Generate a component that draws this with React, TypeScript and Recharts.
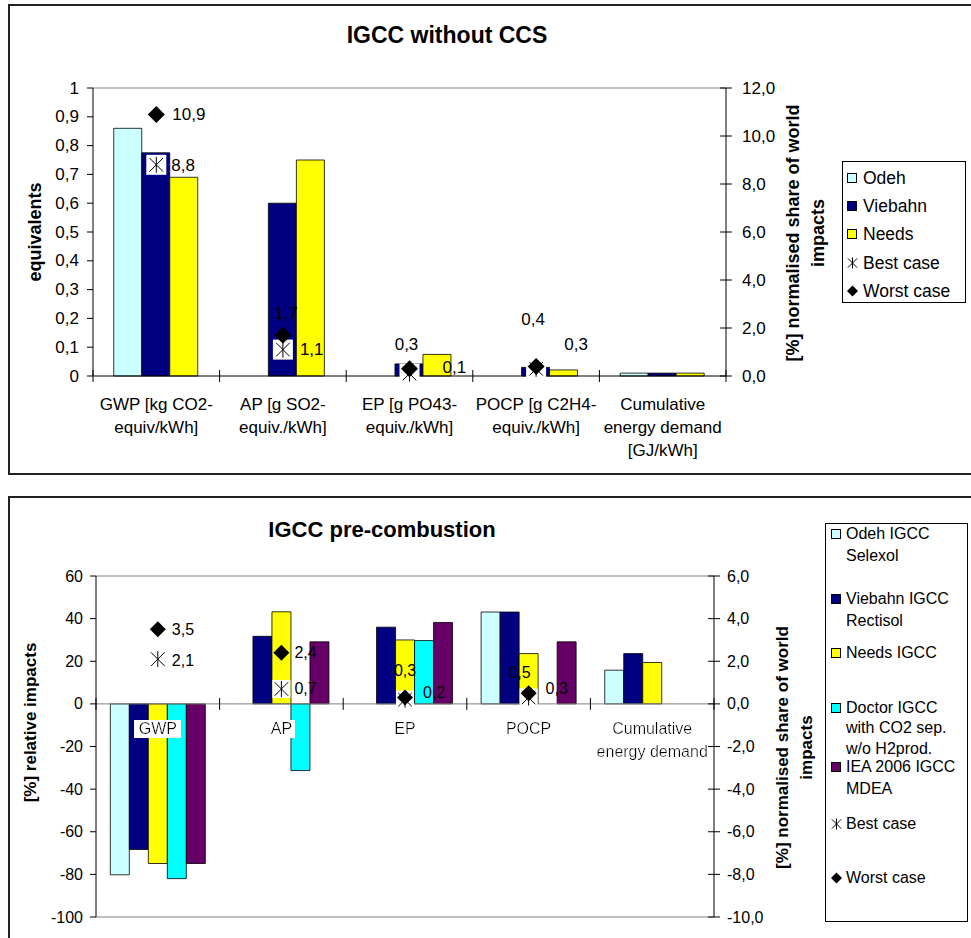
import React from 'react';
import { ComposedChart, Bar, Line, XAxis, YAxis, ReferenceLine, LabelList } from 'recharts';

const FONT = '"Liberation Sans", Arial, Helvetica, sans-serif';

// ---------------- Data: IGCC without CCS ----------------
const topCategories = [
  'GWP [kg CO2-\nequiv/kWh]',
  'AP [g SO2-\nequiv./kWh]',
  'EP [g PO43-\nequiv./kWh]',
  'POCP [g C2H4-\nequiv./kWh]',
  'Cumulative\nenergy demand\n[GJ/kWh]',
];
const topOdeh = [0.86, null, null, null, 0.01];
const topViebahn = [0.775, 0.6, 0.042, 0.03, 0.01];
const topNeeds = [0.69, 0.75, 0.075, 0.021, 0.01];
const topBest = [8.8, 1.1, 0.1, 0.3, null];
const topWorst = [10.9, 1.7, 0.3, 0.4, null];
const topLeftTicks = [0, 0.1, 0.2, 0.3, 0.4, 0.5, 0.6, 0.7, 0.8, 0.9, 1];
const topRightTicks = [0, 2, 4, 6, 8, 10, 12];

// ---------------- Data: IGCC pre-combustion ----------------
const botCategories = ['GWP', 'AP', 'EP', 'POCP', 'Cumulative\nenergy demand'];
const botOdeh = [-80.2, null, null, 43.1, 15.8];
const botViebahn = [-68.3, 31.7, 36.0, 43.1, 23.6];
const botNeeds = [-74.9, 43.2, 30.0, 23.6, 19.4];
const botDoctor = [-82.0, -31.3, 29.7, null, null];
const botIEA = [-74.9, 29.1, 38.2, 29.1, null];
const botBest = [2.1, 0.7, 0.2, 0.3, null];
const botWorst = [3.5, 2.4, 0.3, 0.5, null];
const botLeftTicks = [-100, -80, -60, -40, -20, 0, 20, 40, 60];
const botRightTicks = [-10, -8, -6, -4, -2, 0, 2, 4, 6];

// ---------------- Series definitions ----------------
const topSeries = [
  { key: 'odeh', name: 'Odeh', color: '#CCFFFF' },
  { key: 'viebahn', name: 'Viebahn', color: '#000080' },
  { key: 'needs', name: 'Needs', color: '#FFFF00' },
];
const botSeries = [
  { key: 'odeh', name: 'Odeh IGCC\nSelexol', color: '#CCFFFF' },
  { key: 'viebahn', name: 'Viebahn IGCC\nRectisol', color: '#000080' },
  { key: 'needs', name: 'Needs IGCC', color: '#FFFF00' },
  { key: 'doctor', name: 'Doctor IGCC\nwith CO2 sep.\nw/o H2prod.', color: '#00FFFF' },
  { key: 'iea', name: 'IEA 2006 IGCC\nMDEA', color: '#660066' },
];

const topData = topCategories.map((c, i) => ({
  cat: c,
  odeh: topOdeh[i],
  viebahn: topViebahn[i],
  needs: topNeeds[i],
  best: topBest[i],
  worst: topWorst[i],
}));
const botData = botCategories.map((c, i) => ({
  cat: c,
  odeh: botOdeh[i],
  viebahn: botViebahn[i],
  needs: botNeeds[i],
  doctor: botDoctor[i],
  iea: botIEA[i],
  best: botBest[i],
  worst: botWorst[i],
}));

// ---------------- Layout constants ----------------
const W = 971;
const TOP_H = 470;
const TOP_MARGIN = { top: 88, right: 185, bottom: 14, left: 33 };
const TOP_PLOT_W = W - TOP_MARGIN.left - TOP_MARGIN.right - 120;
const BOT_H = 468;
const BOT_MARGIN = { top: 106, right: 197, bottom: 21, left: 36 };

// label offsets [dx, dy, anchor]
const topWorstLbl: [number, number, string][] = [[16, 0, 'start'], [3, -22, 'middle'], [-3, -24, 'middle'], [-3, -47, 'middle']];
const topBestLbl: [number, number, string][] = [[15, 1, 'start'], [17, 0, 'start'], [33, -6, 'start'], [40, -24, 'middle']];
const botWorstLbl: [number, number, string][] = [[14, 0, 'start'], [13, 0, 'start'], [0, -27, 'middle'], [-9, -21, 'middle']];
const botBestLbl: [number, number, string][] = [[14, 1, 'start'], [13, 0, 'start'], [18, -7, 'start'], [17, -9, 'start']];

const fmt1 = (v: number) => v.toFixed(1).replace('.', ',');
const fmtTopLeft = (v: number) => (v === 0 || v === 1 ? String(v) : String(v).replace('.', ','));

// ---------------- Markers ----------------
const diamondPath = (cx: number, cy: number, s: number) =>
  `M${cx},${cy - s}L${cx + s},${cy}L${cx},${cy + s}L${cx - s},${cy}Z`;

const AsteriskShape = ({ cx, cy, s, box }: any) => (
  <g>
    {box > 0 && <rect x={cx - box / 2} y={cy - box / 2} width={box} height={box} fill="#fff" />}
    <line x1={cx} y1={cy - s} x2={cx} y2={cy + s} stroke="#000" strokeWidth={1} />
    <line x1={cx - s * 0.85} y1={cy - s * 0.85} x2={cx + s * 0.85} y2={cy + s * 0.85} stroke="#000" strokeWidth={1} />
    <line x1={cx - s * 0.85} y1={cy + s * 0.85} x2={cx + s * 0.85} y2={cy - s * 0.85} stroke="#000" strokeWidth={1} />
  </g>
);

const makeDiamondDot = (s: number) => (props: any) => {
  const { cx, cy, value, index } = props;
  if (value == null || cx == null || cy == null || isNaN(cy)) return <g key={`d${index}`} />;
  return <path key={`d${index}`} d={diamondPath(cx, cy, s)} fill="#000" />;
};
const makeAsteriskDot = (s: number, box: number) => (props: any) => {
  const { cx, cy, value, index } = props;
  if (value == null || cx == null || cy == null || isNaN(cy)) return <g key={`a${index}`} />;
  return (
    <g key={`a${index}`}>
      <AsteriskShape cx={cx} cy={cy} s={s} box={box} />
    </g>
  );
};

const makeLabel = (offsets: [number, number, string][], fontSize: number) => (props: any) => {
  const { x, y, value, index } = props;
  if (value == null || x == null || y == null) return null;
  const o = offsets[index] || [14, 0, 'start'];
  return (
    <text
      key={`l${index}`}
      x={x + o[0]}
      y={y + o[1]}
      textAnchor={o[2] as any}
      dominantBaseline="central"
      fontSize={fontSize}
      fontFamily={FONT}
      fill="#000"
    >
      {fmt1(Number(value))}
    </text>
  );
};

// ---------------- Axis ticks ----------------
const makeLeftTick = (fmt: (v: number) => string, fontSize: number, gap: number) => (props: any) => {
  const { x, y, payload } = props;
  return (
    <g>
      <line x1={x - 6} x2={x} y1={y} y2={y} stroke="#000" />
      <text x={x - gap} y={y} textAnchor="end" dominantBaseline="central" fontSize={fontSize} fontFamily={FONT} fill="#000">
        {fmt(payload.value)}
      </text>
    </g>
  );
};
const makeRightTick = (fontSize: number, gap: number) => (props: any) => {
  const { x, y, payload } = props;
  return (
    <g>
      <line x1={x - 6} x2={x + 6} y1={y} y2={y} stroke="#000" />
      <text x={x + gap} y={y} textAnchor="start" dominantBaseline="central" fontSize={fontSize} fontFamily={FONT} fill="#000">
        {fmt1(payload.value)}
      </text>
    </g>
  );
};

const TopXTick = (props: any) => {
  const { x, y, payload, index } = props;
  const n = topCategories.length;
  const bw = TOP_PLOT_W / n;
  const lines = String(payload.value).split('\n');
  return (
    <g>
      <line x1={x - bw / 2} x2={x - bw / 2} y1={y - 6} y2={y + 6} stroke="#000" />
      {index === n - 1 && <line x1={x + bw / 2} x2={x + bw / 2} y1={y - 6} y2={y + 6} stroke="#000" />}
      {lines.map((l, k) => (
        <text key={k} x={x} y={y + 28 + k * 23} textAnchor="middle" dominantBaseline="central" fontSize={17} fontFamily={FONT} fill="#000">
          {l}
        </text>
      ))}
    </g>
  );
};

const BotAxisLabels = (props: any) => {
  const vb = props.viewBox || {};
  const x0 = vb.x;
  const y0 = vb.y;
  const w = vb.width;
  const n = botCategories.length;
  const bw = w / n;
  return (
    <g>
      <defs>
        <filter id="whiteBg" x="-0.1" y="0" width="1.2" height="1">
          <feFlood floodColor="#ffffff" />
          <feComposite in="SourceGraphic" operator="over" />
        </filter>
      </defs>
      {Array.from({ length: n + 1 }).map((_, i) => (
        <line key={`t${i}`} x1={x0 + i * bw} x2={x0 + i * bw} y1={y0 - 6} y2={y0 + 6} stroke="#000" />
      ))}
      {botCategories.map((c, i) =>
        c.split('\n').map((l, k) => (
          <text
            key={`c${i}-${k}`}
            x={x0 + (i + 0.5) * bw}
            y={y0 + 25 + k * 23}
            textAnchor="middle"
            dominantBaseline="central"
            fontSize={16}
            fontFamily={FONT}
            fill="#000"
            filter="url(#whiteBg)"
          >
            {l}
          </text>
        ))
      )}
    </g>
  );
};

const makeVertTitle = (lines: string[], dxs: number[], dy: number, fontSize: number) => (props: any) => {
  const vb = props.viewBox || {};
  const cy = vb.y + vb.height / 2 + dy;
  return (
    <g>
      {lines.map((l, k) => {
        const cx = vb.x + dxs[k];
        return (
          <text
            key={k}
            x={cx}
            y={cy}
            transform={`rotate(-90 ${cx} ${cy})`}
            textAnchor="middle"
            dominantBaseline="central"
            fontSize={fontSize}
            fontWeight="bold"
            fontFamily={FONT}
            fill="#000"
          >
            {l}
          </text>
        );
      })}
    </g>
  );
};

// ---------------- Legend ----------------
const Swatch = ({ color }: { color: string }) => (
  <div style={{ width: 8, height: 8, background: color, border: '1px solid #000' }} />
);
const AstIcon = () => (
  <svg width={11} height={12} style={{ display: 'block' }}>
    <AsteriskShape cx={5.5} cy={6} s={5.5} box={0} />
  </svg>
);
const DiaIcon = () => (
  <svg width={11} height={12} style={{ display: 'block' }}>
    <path d={diamondPath(5.5, 6, 5.5)} fill="#000" />
  </svg>
);

const topLegendYs = [16, 44, 72, 101, 129];
const botLegendYs = [10, 75, 129, 184, 243, 300, 354];
const botLegendLineH = [22, 22, 22, 20.5, 22, 22, 22];

const LegendBox = ({ items, ys, left, top, width, height, fontSize, iconLeft, textLeft, lineH }: any) => (
  <div
    style={{
      position: 'absolute',
      left,
      top,
      width,
      height,
      boxSizing: 'border-box',
      border: '1px solid #000',
      background: '#fff',
      fontFamily: FONT,
      fontSize,
      color: '#000',
    }}
  >
    {items.map((it: any, i: number) => {
      const lh = Array.isArray(lineH) ? lineH[i] : lineH;
      return (
        <div key={i} style={{ position: 'absolute', left: 0, top: ys[i] - lh / 2, width: '100%' }}>
          <div style={{ position: 'absolute', left: iconLeft, top: lh / 2 - 6, width: 12, height: 12, display: 'flex', alignItems: 'center', justifyContent: 'center' }}>
            {it.type === 'bar' ? <Swatch color={it.color} /> : it.type === 'best' ? <AstIcon /> : <DiaIcon />}
          </div>
          <div style={{ position: 'absolute', left: textLeft, top: 0, lineHeight: `${lh}px`, whiteSpace: 'pre' }}>{it.name}</div>
        </div>
      );
    })}
  </div>
);

export default function App() {
  const topLegendItems = [
    ...topSeries.map((s) => ({ type: 'bar', name: s.name, color: s.color })),
    { type: 'best', name: 'Best case' },
    { type: 'worst', name: 'Worst case' },
  ];
  const botLegendItems = [
    ...botSeries.map((s) => ({ type: 'bar', name: s.name, color: s.color })),
    { type: 'best', name: 'Best case' },
    { type: 'worst', name: 'Worst case' },
  ];

  return (
    <div style={{ position: 'absolute', left: 0, top: 0, width: W, height: 938, overflow: 'hidden', background: '#fff', fontFamily: FONT }}>
      {/* frames */}
      <div style={{ position: 'absolute', left: 8, top: 4, width: 1000, height: 471, boxSizing: 'border-box', border: '2px solid #222' }} />
      <div style={{ position: 'absolute', left: 8, top: 496, width: 1000, height: 480, boxSizing: 'border-box', border: '2px solid #222' }} />

      {/* ---------- Top chart ---------- */}
      <div style={{ position: 'absolute', left: 447, top: 35, transform: 'translate(-50%, -50%)', fontSize: 23, fontWeight: 'bold', whiteSpace: 'nowrap' }}>
        IGCC without CCS
      </div>
      <div style={{ position: 'absolute', left: 0, top: 0 }}>
        <ComposedChart width={W} height={TOP_H} data={topData} margin={TOP_MARGIN} barCategoryGap="16.4%" barGap={0}>
          <XAxis dataKey="cat" height={80} interval={0} tickLine={false} tickSize={0} tickMargin={0} axisLine={{ stroke: '#000' }} tick={(p: any) => <TopXTick {...p} />} />
          <YAxis
            yAxisId="left"
            domain={[0, 1]}
            ticks={topLeftTicks}
            interval={0}
            width={60}
            tickLine={false}
            tickSize={0}
            tickMargin={0}
            axisLine={{ stroke: '#000' }}
            tick={makeLeftTick(fmtTopLeft, 17, 14)}
            label={makeVertTitle(['equivalents'], [2], 0, 18)}
          />
          <YAxis
            yAxisId="right"
            orientation="right"
            domain={[0, 12]}
            ticks={topRightTicks}
            interval={0}
            width={60}
            tickLine={false}
            tickSize={0}
            tickMargin={0}
            axisLine={{ stroke: '#000' }}
            tick={makeRightTick(17, 16)}
            label={makeVertTitle(['[%] normalised share of world', 'impacts'], [67, 92], 1, 18)}
          />
          <ReferenceLine yAxisId="left" y={1} stroke="#808080" />
          {topSeries.map((s) => (
            <Bar key={s.key} yAxisId="left" dataKey={s.key} fill={s.color} stroke="#000" strokeWidth={0.8} isAnimationActive={false} />
          ))}
          <Line yAxisId="right" dataKey="best" stroke="none" dot={makeAsteriskDot(8, 20)} activeDot={false} isAnimationActive={false}>
            <LabelList dataKey="best" content={makeLabel(topBestLbl, 17)} />
          </Line>
          <Line yAxisId="right" dataKey="worst" stroke="none" dot={makeDiamondDot(8.5)} activeDot={false} isAnimationActive={false}>
            <LabelList dataKey="worst" content={makeLabel(topWorstLbl, 17)} />
          </Line>
        </ComposedChart>
      </div>
      <LegendBox items={topLegendItems} ys={topLegendYs} left={842} top={161} width={124} height={142} fontSize={17.5} iconLeft={3} textLeft={20} lineH={22} />

      {/* ---------- Bottom chart ---------- */}
      <div style={{ position: 'absolute', left: 382, top: 530, transform: 'translate(-50%, -50%)', fontSize: 22, fontWeight: 'bold', whiteSpace: 'nowrap' }}>
        IGCC pre-combustion
      </div>
      <div style={{ position: 'absolute', left: 0, top: 470 }}>
        <ComposedChart width={W} height={BOT_H} data={botData} margin={BOT_MARGIN} barCategoryGap="11.6%" barGap={0}>
          <XAxis dataKey="cat" hide />
          <YAxis
            yAxisId="left"
            domain={[-100, 60]}
            ticks={botLeftTicks}
            interval={0}
            width={60}
            tickLine={false}
            tickSize={0}
            tickMargin={0}
            axisLine={{ stroke: '#000' }}
            tick={makeLeftTick((v) => String(v), 16, 13)}
            label={makeVertTitle(['[%] relative impacts'], [-6], -24, 17)}
          />
          <YAxis
            yAxisId="right"
            orientation="right"
            domain={[-10, 6]}
            ticks={botRightTicks}
            interval={0}
            width={60}
            tickLine={false}
            tickSize={0}
            tickMargin={0}
            axisLine={{ stroke: '#000' }}
            tick={makeRightTick(16, 13)}
            label={makeVertTitle(['[%] normalised share of world', 'impacts'], [68, 92], 1, 17)}
          />
          <ReferenceLine yAxisId="left" y={60} stroke="#808080" />
          <ReferenceLine yAxisId="left" y={-100} stroke="#808080" />
          {botSeries.map((s) => (
            <Bar key={s.key} yAxisId="left" dataKey={s.key} fill={s.color} stroke="#000" strokeWidth={0.8} isAnimationActive={false} />
          ))}
          <ReferenceLine yAxisId="left" y={0} stroke="#808080" label={BotAxisLabels} />
          <Line yAxisId="right" dataKey="best" stroke="none" dot={makeAsteriskDot(8, 18)} activeDot={false} isAnimationActive={false}>
            <LabelList dataKey="best" content={makeLabel(botBestLbl, 16)} />
          </Line>
          <Line yAxisId="right" dataKey="worst" stroke="none" dot={makeDiamondDot(8)} activeDot={false} isAnimationActive={false}>
            <LabelList dataKey="worst" content={makeLabel(botWorstLbl, 16)} />
          </Line>
        </ComposedChart>
      </div>
      <LegendBox items={botLegendItems} ys={botLegendYs} left={825} top={523} width={143} height={399} fontSize={16} iconLeft={4} textLeft={20} lineH={botLegendLineH} />
    </div>
  );
}
